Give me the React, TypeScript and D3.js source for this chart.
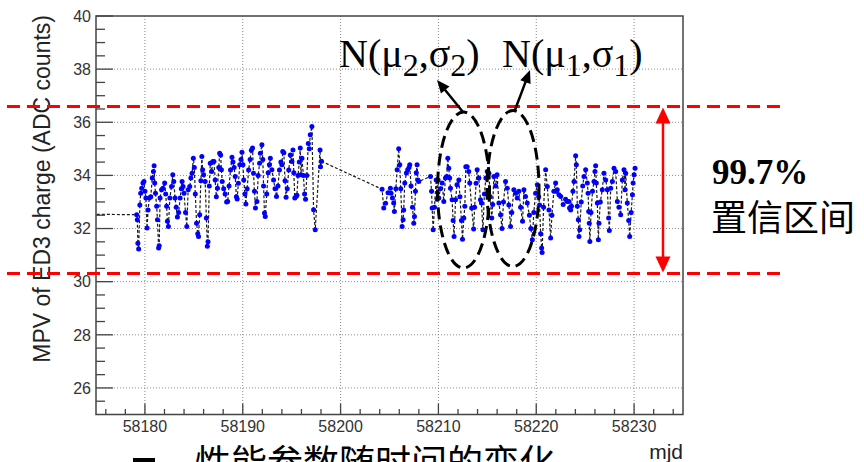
import React from "react";
import * as d3 from "d3";

const W = 864;
const H = 462;

const xDomain: [number, number] = [58175, 58235];
const yDomain: [number, number] = [25, 40];
const xMajorTicks = [58180, 58190, 58200, 58210, 58220, 58230];
const yMajorTicks = [26, 28, 30, 32, 34, 36, 38, 40];
const confidenceLimits = [30.31, 36.59];

// MPV vs MJD, before the data gap
const mpvBeforeGap: [number, number][] = [
  [58171.0, 32.55],
  [58179.16, 32.52], [58179.22, 32.33], [58179.28, 31.45], [58179.36, 31.23], [58179.48, 32.89], [58179.57, 33.33], [58179.67, 33.52], [58179.8, 33.71], [58179.9, 33.77],
  [58180.0, 33.4], [58180.1, 33.15], [58180.22, 32.02], [58180.32, 32.7], [58180.45, 33.15], [58180.6, 33.2], [58180.75, 33.9], [58180.87, 34.15], [58180.94, 34.36],
  [58181.0, 33.71], [58181.08, 33.33], [58181.2, 32.84], [58181.28, 32.33], [58181.4, 31.27], [58181.46, 31.35], [58181.55, 33.15], [58181.7, 33.46], [58181.85, 33.52],
  [58182.02, 33.71], [58182.12, 33.3], [58182.22, 32.84], [58182.3, 32.27], [58182.4, 32.08], [58182.55, 33.15], [58182.72, 33.58], [58182.85, 34.02], [58182.95, 33.77],
  [58183.08, 33.15], [58183.2, 32.8], [58183.32, 32.43], [58183.45, 32.6], [58183.6, 33.15], [58183.72, 33.5], [58183.8, 33.77], [58183.9, 33.58],
  [58184.0, 33.33], [58184.15, 32.6], [58184.28, 32.08], [58184.42, 33.46], [58184.58, 33.58], [58184.7, 33.9], [58184.82, 34.08], [58184.95, 34.65],
  [58185.05, 34.3], [58185.15, 33.3], [58185.28, 32.2], [58185.4, 31.8], [58185.48, 31.7], [58185.6, 32.52], [58185.72, 33.8], [58185.82, 34.71], [58185.9, 34.21],
  [58186.0, 34.02], [58186.16, 33.77], [58186.28, 32.4], [58186.38, 31.33], [58186.45, 31.5], [58186.58, 33.6], [58186.68, 34.46], [58186.82, 34.15], [58186.94, 34.52],
  [58187.06, 34.52], [58187.18, 33.83], [58187.3, 33.2], [58187.42, 33.52], [58187.55, 34.3], [58187.64, 34.83], [58187.74, 34.77], [58187.82, 34.21], [58187.9, 33.77],
  [58188.05, 33.5], [58188.2, 33.3], [58188.35, 33.0], [58188.46, 33.02], [58188.6, 33.6], [58188.75, 34.2], [58188.9, 34.68],
  [58189.0, 34.5], [58189.12, 34.3], [58189.23, 33.96], [58189.35, 33.2], [58189.43, 33.11], [58189.55, 33.7], [58189.7, 34.4], [58189.82, 34.6], [58189.92, 34.87],
  [58190.02, 34.4], [58190.1, 33.83], [58190.22, 33.3], [58190.32, 32.92], [58190.45, 33.5], [58190.6, 34.2], [58190.75, 34.6], [58190.88, 34.95],
  [58191.0, 35.03], [58191.1, 34.08], [58191.2, 33.4], [58191.3, 32.77], [58191.45, 33.02], [58191.58, 34.0], [58191.72, 34.46], [58191.8, 34.83], [58191.96, 35.15],
  [58192.05, 34.6], [58192.13, 33.6], [58192.22, 32.58], [58192.3, 32.45], [58192.45, 33.3], [58192.6, 34.1], [58192.72, 34.4], [58192.82, 34.65], [58192.98, 34.21],
  [58193.15, 33.83], [58193.3, 33.5], [58193.45, 33.21], [58193.6, 33.6], [58193.75, 34.2], [58193.9, 34.5],
  [58194.0, 34.4], [58194.09, 34.9], [58194.2, 34.85], [58194.32, 33.8], [58194.43, 33.18], [58194.55, 33.5], [58194.7, 34.2], [58194.86, 34.77],
  [58195.03, 34.52], [58195.13, 34.96], [58195.22, 34.1], [58195.32, 33.15], [58195.45, 33.21], [58195.54, 33.25], [58195.65, 34.0], [58195.78, 34.5], [58195.88, 35.03], [58195.95, 34.02],
  [58196.05, 34.65], [58196.2, 34.0], [58196.32, 33.3], [58196.42, 33.1], [58196.55, 34.0], [58196.7, 35.2], [58196.8, 35.0], [58196.9, 35.53],
  [58197.07, 35.84], [58197.24, 32.71], [58197.41, 31.95], [58197.9, 34.96], [58197.95, 34.33], [58198.05, 34.53],
];

// MPV vs MJD, after the data gap
const mpvAfterGap: [number, number][] = [
  [58204.24, 33.48], [58204.41, 32.77], [58204.6, 32.95], [58204.85, 33.35],
  [58205.09, 33.52], [58205.16, 33.33], [58205.3, 33.15], [58205.43, 32.96], [58205.5, 32.64], [58205.65, 33.5], [58205.78, 34.21], [58205.94, 35.0],
  [58206.05, 34.4], [58206.15, 33.5], [58206.29, 32.08], [58206.39, 32.33], [58206.45, 32.7], [58206.56, 33.71], [58206.73, 34.09], [58206.86, 34.21],
  [58207.0, 34.3], [58207.07, 34.4], [58207.2, 33.6], [58207.35, 32.8], [58207.48, 32.2], [58207.55, 32.45], [58207.65, 33.4], [58207.74, 34.1], [58207.82, 34.4], [58207.9, 33.83], [58207.99, 33.77],
  [58209.19, 33.96], [58209.3, 33.4], [58209.36, 32.77], [58209.46, 31.95], [58209.6, 32.8], [58209.77, 33.83], [58209.87, 33.1], [58209.97, 33.83],
  [58210.04, 33.15], [58210.2, 33.5], [58210.38, 33.71], [58210.55, 33.02], [58210.72, 33.9], [58210.85, 33.96], [58210.96, 34.65],
  [58211.06, 34.27], [58211.15, 33.9], [58211.23, 33.52], [58211.4, 33.08], [58211.5, 32.3], [58211.6, 31.7], [58211.75, 33.08], [58211.9, 33.65],
  [58212.09, 33.83], [58212.2, 33.2], [58212.35, 32.3], [58212.46, 31.6], [58212.6, 32.4], [58212.7, 32.84], [58212.8, 34.33], [58212.94, 34.33],
  [58213.1, 34.15], [58213.2, 33.71], [58213.4, 32.77], [58213.6, 31.98], [58213.7, 32.8], [58213.85, 33.7], [58213.96, 34.21],
  [58214.13, 33.9], [58214.3, 33.08], [58214.4, 32.96], [58214.55, 31.95], [58214.7, 33.3], [58214.85, 33.9], [58214.99, 34.15],
  [58215.16, 34.08], [58215.3, 33.2], [58215.45, 32.4], [58215.55, 32.9], [58215.67, 33.96], [58215.85, 33.6],
  [58216.0, 34.02], [58216.18, 32.96], [58216.35, 32.52], [58216.5, 32.0], [58216.65, 33.0], [58216.86, 33.77],
  [58217.04, 33.52], [58217.2, 32.89], [58217.37, 32.08], [58217.5, 32.6], [58217.71, 33.46], [58217.89, 33.33],
  [58218.06, 33.15], [58218.22, 33.4], [58218.4, 32.8], [58218.6, 32.27], [58218.74, 33.46], [58218.9, 33.21],
  [58219.08, 32.96], [58219.3, 32.5], [58219.45, 32.0], [58219.6, 31.58], [58219.75, 32.6], [58219.93, 33.33],
  [58220.11, 33.65], [58220.25, 33.2], [58220.34, 32.89], [58220.45, 31.8], [58220.55, 31.27], [58220.6, 31.1], [58220.75, 32.8], [58220.96, 34.21],
  [58221.13, 33.58], [58221.3, 32.7], [58221.47, 31.64], [58221.6, 32.5], [58221.8, 33.4], [58221.98, 33.71],
  [58222.05, 33.4], [58222.15, 33.46], [58222.32, 33.27], [58222.5, 33.21], [58222.75, 32.9],
  [58223.0, 33.1], [58223.17, 33.02], [58223.34, 33.02], [58223.4, 32.77], [58223.52, 32.7], [58223.6, 32.84], [58223.75, 33.4], [58223.86, 33.77],
  [58224.03, 34.74], [58224.1, 34.4], [58224.2, 32.84], [58224.3, 32.33], [58224.37, 31.7], [58224.44, 31.95], [58224.6, 33.0], [58224.75, 33.6], [58224.88, 33.96],
  [58225.05, 34.21], [58225.22, 33.71], [58225.3, 33.33], [58225.36, 32.64], [58225.42, 32.2], [58225.48, 31.51], [58225.6, 32.6], [58225.75, 33.4], [58225.9, 33.77],
  [58226.0, 34.15], [58226.07, 34.36], [58226.14, 33.71], [58226.24, 32.96], [58226.35, 31.58], [58226.41, 32.2], [58226.55, 33.0], [58226.75, 33.46], [58226.92, 34.08],
  [58227.1, 33.83], [58227.27, 33.46], [58227.4, 32.4], [58227.47, 31.93], [58227.61, 33.52], [58227.78, 33.77], [58227.95, 34.27],
  [58228.12, 34.15], [58228.29, 33.02], [58228.45, 32.8], [58228.63, 32.52], [58228.8, 33.83], [58228.97, 34.21],
  [58229.08, 33.46], [58229.14, 34.08], [58229.31, 32.96], [58229.45, 32.3], [58229.55, 31.7], [58229.7, 32.6], [58229.83, 33.27], [58229.9, 33.71],
  [58230.0, 34.02], [58230.1, 34.27],
];

const SANS = "'Liberation Sans', Arial, Helvetica, sans-serif";
const SERIF = "'Liberation Serif', 'Times New Roman', serif";
const CJK = "'Noto Sans CJK SC', sans-serif";

function arrowHead(x1: number, y1: number, x2: number, y2: number, len: number, half: number) {
  const dx = x2 - x1, dy = y2 - y1;
  const L = Math.hypot(dx, dy);
  const ux = dx / L, uy = dy / L;
  const bx = x2 - ux * len, by = y2 - uy * len;
  const px = -uy, py = ux;
  return `${x2},${y2} ${bx + px * half},${by + py * half} ${bx - px * half},${by - py * half}`;
}

function shorten(x1: number, y1: number, x2: number, y2: number, d: number) {
  const dx = x2 - x1, dy = y2 - y1;
  const L = Math.hypot(dx, dy);
  return [x2 - (dx / L) * d, y2 - (dy / L) * d];
}

export default function App() {
  const left = 96, right = 683, top = 16, bottom = 414.5;
  const x = d3.scaleLinear().domain(xDomain).range([left, right]);
  const y = d3.scaleLinear().domain(yDomain).range([bottom, top]);

  const data = [...mpvBeforeGap, ...mpvAfterGap];
  const line = d3.line<[number, number]>().x((d) => x(d[0])).y((d) => y(d[1]));

  const xMinor = d3.range(58176, 58235, 2).filter((v) => !xMajorTicks.includes(v));
  const yMinor = d3.range(25.5, 40, 0.5).filter((v) => !yMajorTicks.includes(v));

  const arrows = [
    { x1: 463, y1: 112, x2: 437, y2: 80 },
    { x1: 515, y1: 110, x2: 530, y2: 70 },
  ];

  const redX = 663;
  const yTop = y(confidenceLimits[1]);
  const yBot = y(confidenceLimits[0]);

  return (
    <svg
      width={W}
      height={H}
      viewBox={`0 0 ${W} ${H}`}
      style={{ position: "absolute", left: 0, top: 0, background: "#fff" }}
    >
      <defs>
        <clipPath id="plotClip">
          <rect x={left} y={top} width={right - left} height={bottom - top} />
        </clipPath>
      </defs>
      <rect x={0} y={0} width={W} height={H} fill="#fff" />

      {/* grid */}
      <g stroke="#8a8a8a" strokeWidth={1} strokeDasharray="1,2">
        {xMajorTicks.map((t) => (
          <line key={"gx" + t} x1={x(t)} x2={x(t)} y1={top} y2={bottom} />
        ))}
        {yMajorTicks.filter((t) => t < 40).map((t) => (
          <line key={"gy" + t} x1={left} x2={right} y1={y(t)} y2={y(t)} />
        ))}
      </g>

      {/* data */}
      <g clipPath="url(#plotClip)">
        <path d={line(data) || ""} fill="none" stroke="#1a1a1a" strokeWidth={1.2} strokeDasharray="3,2" />
        {data.map((d, i) => (
          <circle key={i} cx={x(d[0])} cy={y(d[1])} r={2.5} fill="#0000ff" />
        ))}
      </g>

      {/* frame */}
      <rect x={left} y={top} width={right - left} height={bottom - top} fill="none" stroke="#444" strokeWidth={1.5} />

      {/* ticks */}
      <g stroke="#444" strokeWidth={1.3}>
        {yMajorTicks.map((t) => (
          <line key={"ytm" + t} x1={left} x2={left + 17} y1={y(t)} y2={y(t)} />
        ))}
        {yMinor.map((t) => (
          <line key={"ytn" + t} x1={left} x2={left + 9} y1={y(t)} y2={y(t)} />
        ))}
        {xMajorTicks.map((t) => (
          <line key={"xtm" + t} x1={x(t)} x2={x(t)} y1={bottom} y2={bottom - 11} />
        ))}
        {xMinor.map((t) => (
          <line key={"xtn" + t} x1={x(t)} x2={x(t)} y1={bottom} y2={bottom - 5.5} />
        ))}
      </g>

      {/* tick labels */}
      <g fontFamily={SANS} fontSize={16} fill="#333">
        {yMajorTicks.map((t) => (
          <text key={"yl" + t} x={91} y={y(t)} dy="0.36em" textAnchor="end">
            {t}
          </text>
        ))}
        {xMajorTicks.map((t) => (
          <text key={"xl" + t} x={x(t)} y={432} textAnchor="middle">
            {t}
          </text>
        ))}
      </g>

      {/* axis titles */}
      <text
        transform="translate(50,15) rotate(-90)"
        textAnchor="end"
        fontFamily={SANS}
        fontSize={23}
        fill="#222"
      >
        MPV of ED3 charge (ADC counts)
      </text>
      <text x={683} y={459} textAnchor="end" fontFamily={SANS} fontSize={21} fill="#222">
        mjd
      </text>

      {/* red confidence lines */}
      <g stroke="#ff0000" strokeWidth={3} strokeDasharray="13,7">
        <line x1={7} x2={787} y1={yTop} y2={yTop} />
        <line x1={7} x2={787} y1={yBot} y2={yBot} />
      </g>
      <line x1={redX} x2={redX} y1={yTop + 14} y2={yBot - 14} stroke="#ff0000" strokeWidth={2.5} />
      <polygon points={arrowHead(redX, yTop + 30, redX, yTop + 1, 16, 7.5)} fill="#ff0000" />
      <polygon points={arrowHead(redX, yBot - 30, redX, yBot - 1, 16, 7.5)} fill="#ff0000" />

      <text x={712} y={184} fontFamily={SERIF} fontWeight="bold" fontSize={35} fill="#000">
        99.7%
      </text>
      <text x={711} y={231} fontFamily={CJK} fontSize={36} fill="#000">
        置信区间
      </text>

      {/* ellipses */}
      <g fill="none" stroke="#000" strokeWidth={3} strokeDasharray="12,6">
        <ellipse cx={463.5} cy={190} rx={26} ry={78} />
        <ellipse cx={513} cy={188.5} rx={26} ry={78} />
      </g>

      {/* black arrows */}
      {arrows.map((a, i) => {
        const [ex, ey] = shorten(a.x1, a.y1, a.x2, a.y2, 10);
        return (
          <g key={"ar" + i}>
            <line x1={a.x1} y1={a.y1} x2={ex} y2={ey} stroke="#000" strokeWidth={2.5} />
            <polygon points={arrowHead(a.x1, a.y1, a.x2, a.y2, 13, 5.5)} fill="#000" />
          </g>
        );
      })}

      {/* N(mu, sigma) labels */}
      <text x={339} y={67} fontFamily={SERIF} fontSize={40} fill="#000">
        N(μ<tspan fontSize={32} dy={9}>2</tspan><tspan dy={-9}>,σ</tspan><tspan fontSize={32} dy={9}>2</tspan><tspan dy={-9}>)</tspan>
      </text>
      <text x={502} y={67} fontFamily={SERIF} fontSize={40} fill="#000">
        N(μ<tspan fontSize={32} dy={9}>1</tspan><tspan dy={-9}>,σ</tspan><tspan fontSize={32} dy={9}>1</tspan><tspan dy={-9}>)</tspan>
      </text>

      {/* bottom caption (cut off by the frame edge, as in the source) */}
      <rect x={133} y={458} width={22} height={22} fill="#000" />
      <text x={195} y={476} fontFamily={CJK} fontSize={36} fill="#000">
        性能参数随时间的变化
      </text>
    </svg>
  );
}
